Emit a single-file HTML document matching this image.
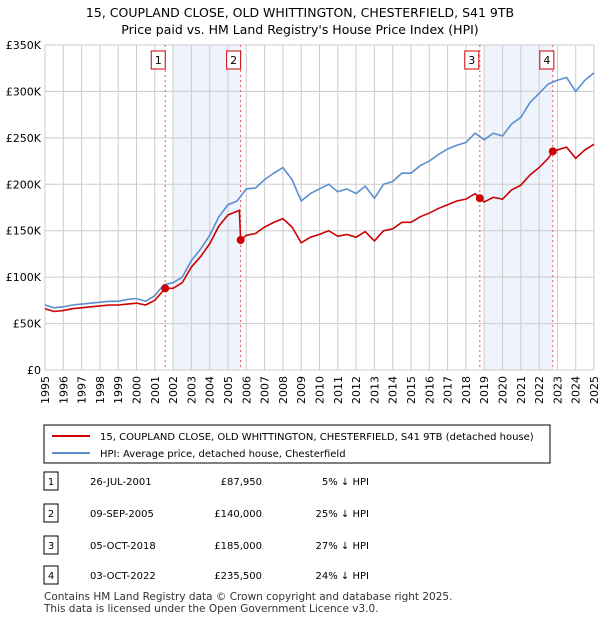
<!DOCTYPE html>
<html><head><meta charset="utf-8"><style>
body{margin:0;background:#fff;font-family:"DejaVu Sans","Liberation Sans",sans-serif;}
svg text{font-family:"DejaVu Sans","Liberation Sans",sans-serif;}
</style></head><body>
<svg id="c" width="600" height="620">
<text x="300" y="17" text-anchor="middle" font-size="12.5">15, COUPLAND CLOSE, OLD WHITTINGTON, CHESTERFIELD, S41 9TB</text>
<text x="300" y="34" text-anchor="middle" font-size="12.5">Price paid vs. HM Land Registry's House Price Index (HPI)</text>
<g id="plot"></g>
<rect x="44" y="425" width="506" height="38" fill="#fff" stroke="#000" stroke-width="1"/>
<line x1="52" y1="436" x2="90" y2="436" stroke="#cc0000" stroke-width="2"/>
<text x="100" y="440" font-size="10">15, COUPLAND CLOSE, OLD WHITTINGTON, CHESTERFIELD, S41 9TB (detached house)</text>
<line x1="52" y1="453" x2="90" y2="453" stroke="#5b8fd0" stroke-width="2"/>
<text x="100" y="457" font-size="10">HPI: Average price, detached house, Chesterfield</text>
<g id="tbl"></g>
<text x="44" y="600" font-size="10.5" fill="#333">Contains HM Land Registry data © Crown copyright and database right 2025.</text>
<text x="44" y="612" font-size="10.5" fill="#333">This data is licensed under the Open Government Licence v3.0.</text>
</svg>
<script>
const hpiT=[1995,1995.5,1996,1996.5,1997,1997.5,1998,1998.5,1999,1999.5,2000,2000.5,2001,2001.5,2002,2002.5,2003,2003.5,2004,2004.5,2005,2005.5,2006,2006.5,2007,2007.5,2008,2008.5,2009,2009.5,2010,2010.5,2011,2011.5,2012,2012.5,2013,2013.5,2014,2014.5,2015,2015.5,2016,2016.5,2017,2017.5,2018,2018.5,2019,2019.5,2020,2020.5,2021,2021.5,2022,2022.5,2023,2023.5,2024,2024.5,2025];
const hpiV=[70,67,68,70,71,72,73,74,74,76,77,74,80,92,94,100,118,130,145,165,178,182,195,196,205,212,218,205,182,190,195,200,192,195,190,198,185,200,203,212,212,220,225,232,238,242,245,255,248,255,252,265,272,288,298,308,312,315,300,312,320];
const redT=[1995,1995.5,1996,1996.5,1997,1997.5,1998,1998.5,1999,1999.5,2000,2000.5,2001,2001.57,2002,2002.5,2003,2003.5,2004,2004.5,2005,2005.5,2005.62,2005.69,2006,2006.5,2007,2007.5,2008,2008.5,2009,2009.5,2010,2010.5,2011,2011.5,2012,2012.5,2013,2013.5,2014,2014.5,2015,2015.5,2016,2016.5,2017,2017.5,2018,2018.5,2018.76,2019,2019.5,2020,2020.5,2021,2021.5,2022,2022.5,2022.75,2023,2023.5,2024,2024.5,2025];
const redV=[66,63,64,66,67,68,69,70,70,71,72,70,75,87.95,88,94,111,122,136,155,167,171,172,140,145,147,154,159,163,154,137,143,146,150,144,146,143,149,139,150,152,159,159,165,169,174,178,182,184,190,185,181,186,184,194,199,210,218,228,235.5,237,240,228,237,243];
const saleT=[2001.57,2005.69,2018.76,2022.75];
const saleV=[87950,140000,185000,235500];
const saleDate=["26-JUL-2001","09-SEP-2005","05-OCT-2018","03-OCT-2022"];
const salePrice=["£87,950","£140,000","£185,000","£235,500"];
const saleHpi=["5% ↓ HPI","25% ↓ HPI","27% ↓ HPI","24% ↓ HPI"];
const shadeStart=[2002,2019];
const shadeEnd=[2005.69,2022.75];
const yTicks=[0,50,100,150,200,250,300,350];
const yLabels=["£0","£50K","£100K","£150K","£200K","£250K","£300K","£350K"];
const xYears=[1995,1996,1997,1998,1999,2000,2001,2002,2003,2004,2005,2006,2007,2008,2009,2010,2011,2012,2013,2014,2015,2016,2017,2018,2019,2020,2021,2022,2023,2024,2025];
const X0=45,X1=594,Y0=370,Y1=45;
const xs=t=>X0+(t-1995)/30*(X1-X0);
const ys=v=>Y0-v/350*(Y0-Y1);
const NS="http://www.w3.org/2000/svg";
const plot=document.getElementById('plot');
function mk(tag,attrs,parent,name){const e=document.createElementNS(NS,tag);for(const k in attrs)e.setAttribute(k,attrs[k]);


(parent||plot).appendChild(e);return e;}
mk('rect',{x:X0,y:Y1,width:X1-X0,height:Y0-Y1,fill:'#fff'},plot,'plot-area');
shadeStart.forEach((s,i)=>mk('rect',{x:xs(s),y:Y1,width:xs(shadeEnd[i])-xs(s),height:Y0-Y1,fill:'#eef3fc'},plot,'shaded-period'));
xYears.forEach(y=>{mk('line',{x1:xs(y),x2:xs(y),y1:Y1,y2:Y0,stroke:'#cccccc'},plot,'x-gridline');
const t=mk('text',{x:0,y:0,'font-size':11,'text-anchor':'end',transform:`translate(${xs(y)+4},${Y0+6}) rotate(-90)`},plot,'x-tick-label');t.textContent=y;});
yTicks.forEach((v,i)=>{mk('line',{x1:X0,x2:X1,y1:ys(v),y2:ys(v),stroke:'#cccccc'},plot,'y-gridline');
const t=mk('text',{x:X0-4,y:ys(v)+4,'font-size':11,'text-anchor':'end'},plot,'y-tick-label');t.textContent=yLabels[i];});
saleT.forEach((t,i)=>{mk('line',{x1:xs(t),x2:xs(t),y1:Y1,y2:Y0,stroke:'#ee5555','stroke-dasharray':'2,3'},plot,'sale-marker-line');
const bx=xs(t)+(i==2?-5:(i==3?-3:-4))-10;
mk('rect',{x:bx,y:51,width:14,height:18,fill:'#fff',stroke:'#cc0000'},plot,'sale-label-box');
const tx=mk('text',{x:bx+7,y:64,'font-size':11,'text-anchor':'middle'},plot,'sale-label');tx.textContent=i+1;});
mk('polyline',{points:hpiT.map((t,i)=>xs(t)+','+ys(hpiV[i])).join(' '),fill:'none',stroke:'#5b8fd0','stroke-width':1.6},plot,'hpi-line');
mk('polyline',{points:redT.map((t,i)=>xs(t)+','+ys(redV[i])).join(' '),fill:'none',stroke:'#cc0000','stroke-width':1.6},plot,'property-price-line');
saleT.forEach((t,i)=>mk('circle',{cx:xs(t),cy:ys(saleV[i]/1000),r:4,fill:'#cc0000'},plot,'sale-point'));
const tbl=document.getElementById('tbl');
const rowY=[482,514,546,576];
rowY.forEach((y,i)=>{mk('rect',{x:44,y:y-10,width:14,height:18,fill:'#fff',stroke:'#000'},tbl,'table-row-number-box');
let t=mk('text',{x:51,y:y+3,'font-size':10,'text-anchor':'middle'},tbl,'table-row-number');t.textContent=i+1;
t=mk('text',{x:90,y:y+3,'font-size':10},tbl,'sale-date');t.textContent=saleDate[i];
t=mk('text',{x:262,y:y+3,'font-size':10,'text-anchor':'end'},tbl,'sale-price');t.textContent=salePrice[i];
t=mk('text',{x:369,y:y+3,'font-size':10,'text-anchor':'end'},tbl,'sale-hpi-diff');t.textContent=saleHpi[i];});
</script>
</body></html>
